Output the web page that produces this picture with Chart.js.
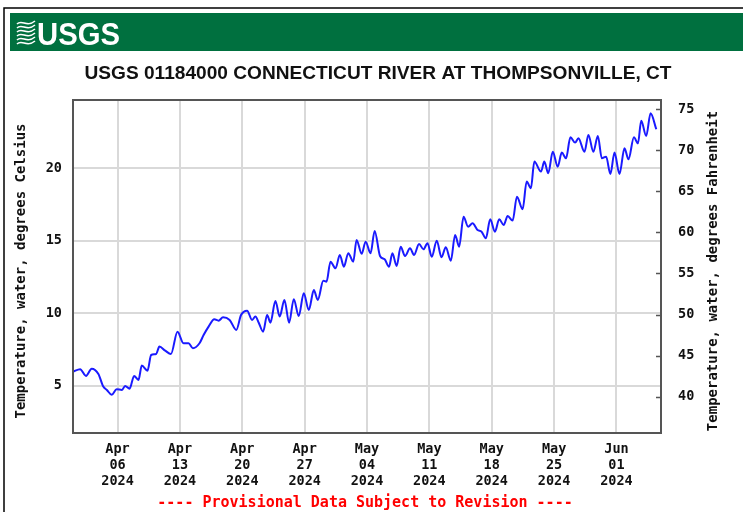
<!DOCTYPE html>
<html>
<head>
<meta charset="utf-8">
<script src="https://cdn.jsdelivr.net/npm/chart.js@4.4.1/dist/chart.umd.min.js"></script>
<style>
  html, body { margin: 0; padding: 0; background: #fff; }
  #wrap { width: 743px; height: 519px; }
</style>
</head>
<body>
<div id="wrap"><canvas id="myChart" width="743" height="519"></canvas></div>
<script>
const stationTitle = "USGS 01184000 CONNECTICUT RIVER AT THOMPSONVILLE, CT";
const footerText = "---- Provisional Data Subject to Revision ----";
const leftAxisTitle = "Temperature, water, degrees Celsius";
const rightAxisTitle = "Temperature, water, degrees Fahrenheit";

// time in days since Apr 01 2024 00:00 (daily highs / lows)
const dayOffsets = [
  0.0, 0.8, 1.46, 2.1, 2.85, 3.4, 3.8, 4.35, 4.9, 5.5,
  5.85, 6.35, 6.86, 7.35, 7.72, 8.36, 8.77, 9.33, 9.7, 10.35,
  10.99, 11.73, 12.4, 12.97, 13.46, 14.2, 14.66, 15.22, 15.86, 16.34,
  16.84, 17.58, 18.33, 18.86, 19.54, 20.1, 20.47, 20.85, 21.34, 21.79,
  22.16, 22.72, 23.2, 23.73, 24.26, 24.78, 25.34, 25.9, 26.47, 27.03,
  27.48, 28.09, 28.46, 28.9, 29.47, 29.95, 30.4, 30.9, 31.46, 31.83,
  32.4, 32.85, 33.4, 33.86, 34.46, 34.98, 35.47, 35.85, 36.33, 36.78,
  37.27, 37.83, 38.28, 38.84, 39.34, 39.79, 40.27, 40.83, 41.36, 41.84,
  42.41, 42.89, 43.34, 43.84, 44.35, 44.85, 45.41, 45.86, 46.34, 46.83,
  47.36, 47.84, 48.34, 48.79, 49.35, 49.83, 50.47, 50.92, 51.4, 51.78,
  52.53, 52.9, 53.35, 53.85, 54.41, 54.86, 55.34, 55.83, 56.36, 56.73,
  57.41, 57.85, 58.41, 58.91, 59.36, 59.84, 60.32, 60.78, 61.34, 61.9,
  62.35, 62.96, 63.41, 63.78, 64.34, 64.83, 65.47
];
const tempC = [
  5.97, 6.14, 5.68, 6.18, 5.81, 4.94, 4.71, 4.37, 4.76, 4.71,
  4.99, 4.8, 5.68, 5.4, 6.39, 6.04, 7.12, 7.19, 7.7, 7.42,
  7.19, 8.73, 7.93, 7.93, 7.59, 7.93, 8.5, 9.08, 9.59, 9.49,
  9.72, 9.54, 8.85, 9.88, 10.18, 9.54, 9.77, 9.35, 8.73, 9.88,
  9.35, 10.85, 9.77, 10.92, 9.35, 10.97, 9.81, 11.38, 10.23, 11.6,
  10.92, 12.25, 12.18, 13.56, 13.1, 14.02, 13.21, 14.14, 13.56, 15.06,
  14.1, 14.94, 14.14, 15.68, 13.95, 13.72, 13.21, 14.14, 13.26, 14.59,
  13.95, 14.48, 14.02, 14.78, 14.41, 14.83, 13.9, 15.0, 13.86, 14.55,
  13.63, 15.4, 14.59, 16.66, 15.97, 16.2, 15.74, 15.63, 15.17, 16.48,
  15.63, 16.48, 16.09, 16.71, 16.39, 18.04, 17.17, 19.08, 18.62, 20.46,
  19.77, 20.46, 19.66, 21.14, 20.11, 21.08, 20.69, 22.14, 21.77, 22.07,
  21.14, 22.3, 21.14, 22.23, 20.69, 20.8, 19.61, 21.08, 19.61, 21.38,
  20.62, 22.14, 21.72, 23.28, 22.23, 23.79, 22.69
];

const xTickDays = [5, 12, 19, 26, 33, 40, 47, 54, 61];
const xTickLabels = [
  ["Apr", "06", "2024"], ["Apr", "13", "2024"], ["Apr", "20", "2024"],
  ["Apr", "27", "2024"], ["May", "04", "2024"], ["May", "11", "2024"],
  ["May", "18", "2024"], ["May", "25", "2024"], ["Jun", "01", "2024"]
];
const celsiusTicks = [5, 10, 15, 20];
const fahrenheitTicks = [40, 45, 50, 55, 60, 65, 70, 75];

const monoFont = "'DejaVu Sans Mono', monospace";
const tickFont = { family: monoFont, size: 13.5, weight: "bold", lineHeight: "16px" };

// banner, title, frame, footer and axis titles
const decorPlugin = {
  id: "usgsDecor",
  beforeDraw(chart) {
    const ctx = chart.ctx;
    ctx.save();
    ctx.fillStyle = "#fff";
    ctx.fillRect(0, 0, chart.width, chart.height);

    // outer frame lines
    ctx.strokeStyle = "#000";
    ctx.lineWidth = 1.5;
    ctx.beginPath();
    ctx.moveTo(4, 512);
    ctx.lineTo(4, 8);
    ctx.lineTo(743, 8);
    ctx.stroke();

    // green banner
    ctx.fillStyle = "#00703f";
    ctx.fillRect(10, 13, 733, 38);

    // wave logo
    ctx.strokeStyle = "#fff";
    ctx.lineWidth = 1.6;
    for (let i = 0; i < 6; i++) {
      const y0 = 22 + i * 4;
      ctx.beginPath();
      ctx.moveTo(17, y0 + 2);
      ctx.bezierCurveTo(22, y0 - 3, 27, y0 + 6, 35, y0 - 1);
      ctx.stroke();
    }

    ctx.fillStyle = "#fff";
    ctx.font = "bold 31px 'Liberation Sans Narrow', 'Liberation Sans', sans-serif";
    ctx.textBaseline = "alphabetic";
    ctx.textAlign = "left";
    const lw = ctx.measureText("USGS").width;
    ctx.save();
    ctx.translate(37, 45);
    ctx.scale(83 / lw, 1);
    ctx.fillText("USGS", 0, 0);
    ctx.restore();

    // station title
    ctx.fillStyle = "#111";
    ctx.font = "bold 18px 'Liberation Sans', Arial, sans-serif";
    ctx.textAlign = "center";
    ctx.textBaseline = "middle";
    const tw = ctx.measureText(stationTitle).width;
    ctx.save();
    ctx.translate(378, 74);
    ctx.scale(587 / tw, 1);
    ctx.fillText(stationTitle, 0, 0);
    ctx.restore();

    // provisional footer
    ctx.fillStyle = "#ff0000";
    ctx.font = "bold 15px " + monoFont;
    ctx.fillText(footerText, 365, 503);

    // axis titles, both reading upward
    ctx.fillStyle = "#111";
    ctx.font = "bold 14px " + monoFont;
    [[leftAxisTitle, 21], [rightAxisTitle, 713]].forEach(([txt, x]) => {
      ctx.save();
      ctx.translate(x, 271);
      ctx.rotate(-Math.PI / 2);
      ctx.fillText(txt, 0, 0);
      ctx.restore();
    });
    ctx.restore();
  },
  afterDraw(chart) {
    const ctx = chart.ctx;
    const a = chart.chartArea;
    const y2 = chart.scales.y2;
    ctx.save();
    ctx.strokeStyle = "#555";
    ctx.lineWidth = 1.5;
    ctx.beginPath();
    y2.ticks.forEach((t) => {
      const py = Math.round(y2.getPixelForValue(t.value)) + 0.5;
      ctx.moveTo(a.right - 5, py);
      ctx.lineTo(a.right, py);
    });
    ctx.stroke();
    ctx.lineWidth = 2;
    ctx.strokeRect(a.left, a.top, a.right - a.left, a.bottom - a.top);
    ctx.restore();
  }
};

const ctx = document.getElementById("myChart");
new Chart(ctx, {
  type: "line",
  data: {
    datasets: [{
      data: dayOffsets.map((d, i) => ({ x: d, y: tempC[i] })),
      borderColor: "#1a1aff",
      borderWidth: 2,
      pointRadius: 0,
      cubicInterpolationMode: "monotone",
      yAxisID: "y"
    }]
  },
  options: {
    responsive: false,
    animation: false,
    layout: { padding: { top: 100, left: 0, right: 0, bottom: 0 } },
    plugins: { legend: { display: false }, tooltip: { enabled: false } },
    scales: {
      x: {
        type: "linear",
        min: 0,
        max: 66,
        afterFit: (s) => { s.height = 86; },
        afterBuildTicks: (s) => { s.ticks = xTickDays.map((v) => ({ value: v })); },
        ticks: {
          callback: (v, i) => xTickLabels[i],
          font: tickFont,
          color: "#111",
          padding: 8,
          maxRotation: 0,
          autoSkip: false
        },
        grid: { color: "#d9d9d9", lineWidth: 2, drawTicks: false },
        border: { display: false }
      },
      y: {
        position: "left",
        min: 1.74,
        max: 24.71,
        afterFit: (s) => { s.width = 73; },
        afterBuildTicks: (s) => { s.ticks = celsiusTicks.map((v) => ({ value: v })); },
        ticks: { font: tickFont, color: "#111", padding: 11 },
        grid: { color: "#d9d9d9", lineWidth: 2, drawTicks: false },
        border: { display: false }
      },
      y2: {
        position: "right",
        min: 35.6,
        max: 76.1,
        afterFit: (s) => { s.width = 82; },
        afterBuildTicks: (s) => { s.ticks = fahrenheitTicks.map((v) => ({ value: v })); },
        ticks: { font: tickFont, color: "#111", padding: 17 },
        grid: { drawOnChartArea: false, drawTicks: false },
        border: { display: false }
      }
    }
  },
  plugins: [decorPlugin]
});
</script>
</body>
</html>
